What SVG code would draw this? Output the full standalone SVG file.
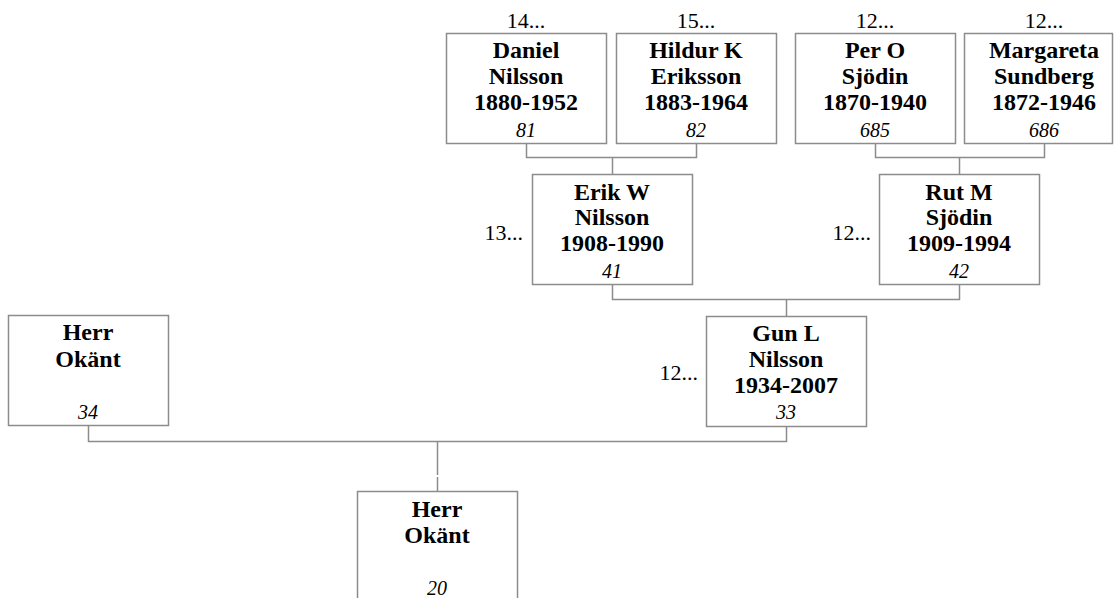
<svg xmlns="http://www.w3.org/2000/svg" width="1114" height="598" viewBox="0 0 1114 598">
<style>
.box{fill:#fff;stroke:#8c8c8c;stroke-width:1.5}
.conn{fill:none;stroke:#8c8c8c;stroke-width:1.5}
text{font-family:"Liberation Serif","Times New Roman",serif;fill:#000}
.n{font-size:24px;font-weight:bold;text-anchor:middle}
.id{font-size:20px;font-style:italic;text-anchor:middle}
.top{font-size:22px;text-anchor:middle}
.side{font-size:22px;text-anchor:end}
</style>
<rect width="1114" height="598" fill="#fff"/>
<g id="connectors">
<path class="conn" d="M526.5,143 V157.5 H696.5 V143 M612.5,157.5 V174"/>
<path class="conn" d="M875.5,143 V157.5 H1044.5 V143 M959.5,157.5 V174"/>
<path class="conn" d="M612.5,284 V299.5 H959.5 V284 M786.5,299.5 V316"/>
<path class="conn" d="M88.5,425 V441.5 H786.5 V426 M437.5,441.5 V475 M437.5,477 V491"/>
</g>
<g id="n81">
<text class="top" x="526" y="28">14...</text>
<rect class="box" x="446.5" y="33.5" width="160" height="110"/>
<text class="n" x="526" y="58">Daniel</text>
<text class="n" x="526" y="84">Nilsson</text>
<text class="n" x="526" y="110">1880-1952</text>
<text class="id" x="526" y="137">81</text>
</g>
<g id="n82">
<text class="top" x="696" y="28">15...</text>
<rect class="box" x="616.5" y="33.5" width="160" height="110"/>
<text class="n" x="696" y="58">Hildur K</text>
<text class="n" x="696" y="84">Eriksson</text>
<text class="n" x="696" y="110">1883-1964</text>
<text class="id" x="696" y="137">82</text>
</g>
<g id="n685">
<text class="top" x="875" y="28">12...</text>
<rect class="box" x="795.5" y="33.5" width="160" height="110"/>
<text class="n" x="875" y="58">Per O</text>
<text class="n" x="875" y="84">Sjödin</text>
<text class="n" x="875" y="110">1870-1940</text>
<text class="id" x="875" y="137">685</text>
</g>
<g id="n686">
<text class="top" x="1044" y="28">12...</text>
<rect class="box" x="964.5" y="33.5" width="148" height="110"/>
<text class="n" x="1044" y="58">Margareta</text>
<text class="n" x="1044" y="84">Sundberg</text>
<text class="n" x="1044" y="110">1872-1946</text>
<text class="id" x="1044" y="137">686</text>
</g>
<g id="n41">
<text class="side" x="523" y="240">13...</text>
<rect class="box" x="532.5" y="174.5" width="160" height="110"/>
<text class="n" x="612" y="200">Erik W</text>
<text class="n" x="612" y="225">Nilsson</text>
<text class="n" x="612" y="251">1908-1990</text>
<text class="id" x="612" y="278">41</text>
</g>
<g id="n42">
<text class="side" x="871" y="240">12...</text>
<rect class="box" x="879.5" y="174.5" width="160" height="110"/>
<text class="n" x="959" y="200">Rut M</text>
<text class="n" x="959" y="225">Sjödin</text>
<text class="n" x="959" y="251">1909-1994</text>
<text class="id" x="959" y="278">42</text>
</g>
<g id="n33">
<text class="side" x="698" y="380">12...</text>
<rect class="box" x="706.5" y="316.5" width="160" height="110"/>
<text class="n" x="786" y="341">Gun L</text>
<text class="n" x="786" y="367">Nilsson</text>
<text class="n" x="786" y="393">1934-2007</text>
<text class="id" x="786" y="419">33</text>
</g>
<g id="n34">
<rect class="box" x="8.5" y="315.5" width="160" height="110"/>
<text class="n" x="88" y="340">Herr</text>
<text class="n" x="88" y="367">Okänt</text>
<text class="id" x="88" y="419">34</text>
</g>
<g id="n20">
<rect class="box" x="357.5" y="491.5" width="160" height="120"/>
<text class="n" x="437" y="517">Herr</text>
<text class="n" x="437" y="543">Okänt</text>
<text class="id" x="437" y="595">20</text>
</g>
</svg>
